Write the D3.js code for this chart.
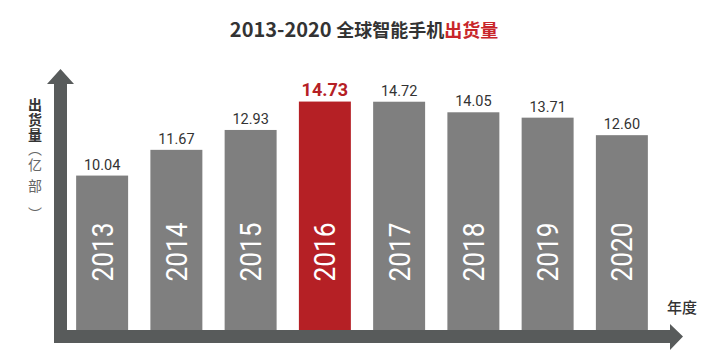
<!DOCTYPE html>
<html lang="zh">
  <head>
    <meta charset="utf-8" />
    <title>2013-2020 全球智能手机出货量</title>
    <script src="https://cdn.jsdelivr.net/npm/d3@7"></script>
    <style>
      body { margin: 0; background: #fff; }
      svg { display: block; }
    </style>
  </head>
  <body>
    <div id="chart"></div>
    <script>
      // data
      var years = ["2013", "2014", "2015", "2016", "2017", "2018", "2019", "2020"];
      var shipments = [10.04, 11.67, 12.93, 14.73, 14.72, 14.05, 13.71, 12.6];
      var peakYear = "2016";

      var width = 726;
      var height = 363;

      var dataset = years.map(function (y, i) {
        return { year: y, value: shipments[i] };
      });

      var svg = d3
        .select("#chart")
        .append("svg")
        .attr("width", width)
        .attr("height", height);

      var x = d3
        .scaleBand()
        .domain(years)
        .range([65, 659])
        .paddingInner(0.3)
        .paddingOuter(0.15);

      var y = d3.scaleLinear().domain([0, 20]).range([334, 18.4]);

      var grey = "#7f7f7f";
      var red = "#b52025";
      var axisColor = "#585b5b";

      // bars
      svg
        .selectAll("rect.bar")
        .data(dataset)
        .enter()
        .append("rect")
        .attr("class", "bar")
        .attr("x", function (d) { return x(d.year); })
        .attr("y", function (d) { return y(d.value); })
        .attr("width", x.bandwidth())
        .attr("height", function (d) { return y(0) - y(d.value); })
        .attr("fill", function (d) { return d.year === peakYear ? red : grey; });

      // value labels
      svg
        .selectAll("text.value")
        .data(dataset)
        .enter()
        .append("text")
        .attr("class", "value")
        .attr("x", function (d) { return x(d.year) + x.bandwidth() / 2; })
        .attr("y", function (d) { return y(d.value) - 6; })
        .attr("text-anchor", "middle")
        .attr("font-family", "Roboto, sans-serif")
        .attr("font-size", function (d) { return d.year === peakYear ? 18 : 14.5; })
        .attr("font-weight", function (d) { return d.year === peakYear ? 700 : 400; })
        .attr("fill", function (d) { return d.year === peakYear ? red : "#333"; })
        .text(function (d) { return d.value.toFixed(2); });

      // year labels inside the bars
      svg
        .selectAll("text.year")
        .data(dataset)
        .enter()
        .append("text")
        .attr("class", "year")
        .attr("transform", function (d) {
          return "translate(" + (x(d.year) + x.bandwidth() / 2) + ",252) rotate(-90)";
        })
        .attr("text-anchor", "middle")
        .attr("dominant-baseline", "central")
        .attr("font-family", "Roboto, sans-serif")
        .attr("font-size", 30)
        .attr("textLength", 59)
        .attr("lengthAdjust", "spacingAndGlyphs")
        .attr("fill", "#fff")
        .text(function (d) { return d.year; });

      // axes drawn as thick arrows
      var axisX0 = 54, axisX1 = 670, axisY0 = 330, axisY1 = 343;
      var vTop = 84;
      svg.append("path")
        .attr("fill", axisColor)
        .attr("d",
          "M" + axisX0 + "," + axisY1 +
          "L" + axisX0 + "," + vTop +
          "L47," + vTop + "L60.5,69L74," + vTop +
          "L67," + vTop +
          "L67," + axisY0 +
          "L" + axisX1 + "," + axisY0 +
          "L" + axisX1 + ",324L683,336.5L" + axisX1 + ",350" +
          "L" + axisX1 + "," + axisY1 + "Z");

      // y axis title: stacked glyphs, each placed through x/y lists of one text
      function stack(str, ys, weight, fill) {
        var chars = Array.from(str);
        return svg.append("text")
          .attr("x", chars.map(function () { return 35; }).join(" "))
          .attr("y", ys.join(" "))
          .attr("text-anchor", "middle")
          .attr("font-family", "'Noto Sans CJK SC', sans-serif")
          .attr("font-size", 14)
          .attr("font-weight", weight)
          .attr("fill", fill)
          .text(str);
      }
      stack("出货量", [109.5, 124.5, 139.5], 700, "#333");
      stack("︵亿部︶", [154, 170, 191, 219], 400, "#666");

      svg.append("text")
        .attr("x", 682)
        .attr("y", 313)
        .attr("text-anchor", "middle")
        .attr("font-family", "'Noto Sans CJK SC', sans-serif")
        .attr("font-size", 15)
        .attr("font-weight", 500)
        .attr("fill", "#333")
        .text("年度");

      // title
      var title = svg.append("text")
        .attr("x", 364)
        .attr("y", 37)
        .attr("text-anchor", "middle")
        .attr("font-family", "'Noto Sans CJK SC', sans-serif")
        .attr("font-size", 18)
        .attr("font-weight", 700)
        .attr("fill", "#333");
      title.append("tspan").attr("font-size", 20).text("2013-2020 ");
      title.append("tspan").text("全球智能手机");
      title.append("tspan").attr("fill", "#c8262b").text("出货量");
    </script>
  </body>
</html>
